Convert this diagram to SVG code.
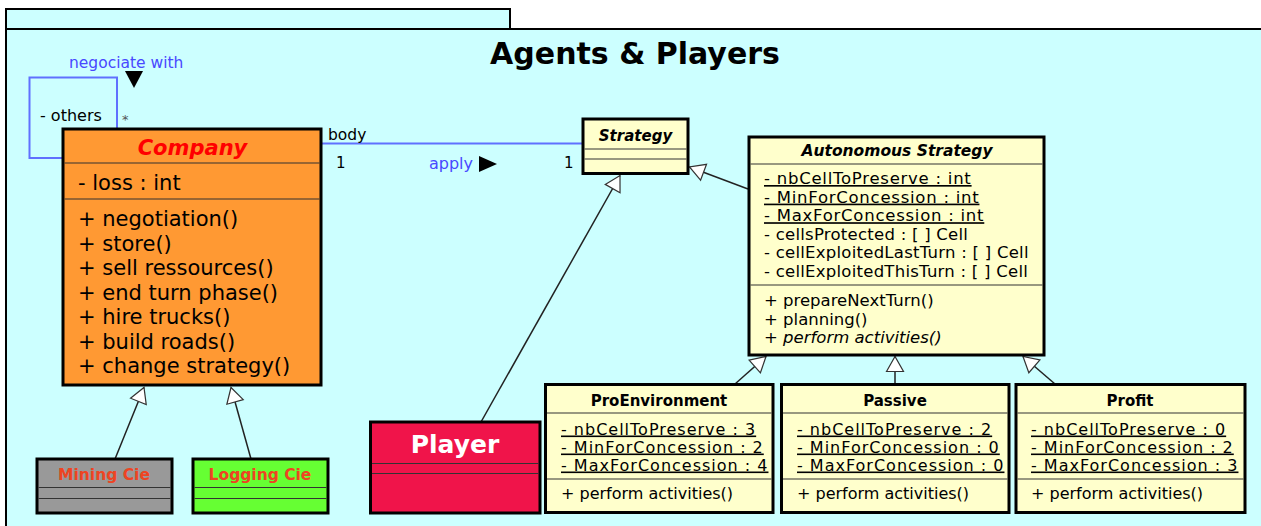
<svg xmlns="http://www.w3.org/2000/svg" width="1261" height="526" viewBox="0 0 1261 526">
<style>
text{font-family:"DejaVu Sans","Liberation Sans",sans-serif;fill:#000}
.box{stroke:#000;stroke-width:3}
.div{stroke:#333;stroke-width:1.2}
.yel{fill:#ffffcc}
.t21{font-size:21px}
.t16{font-size:16px}
.t165{font-size:16.5px}
.ul{text-decoration:underline}
.ls1{letter-spacing:1px}
.ls075{letter-spacing:0.75px}
.ls02{letter-spacing:0.25px}
.hd{font-weight:bold;text-anchor:middle}
.it{font-style:italic}
.gen{fill:none;stroke:#222;stroke-width:1.5;marker-end:url(#gen)}
.assoc{fill:none;stroke:#6070ff;stroke-width:2}
.blue{fill:#4848ff}
</style>
<defs>
<marker id="gen" markerUnits="userSpaceOnUse" markerWidth="20" markerHeight="20" viewBox="0 0 20 20" refX="18" refY="10" orient="auto">
<path d="M3,1.5 L18,10 L3,18.5 Z" fill="#fff" stroke="#333" stroke-width="1.2"/>
</marker>
</defs>
<rect width="1261" height="526" fill="#fff"/>
<g id="package">
<rect x="6" y="9" width="504" height="20" fill="#ccffff" stroke="#000" stroke-width="2"/>
<rect x="6" y="29" width="1270" height="510" fill="#ccffff" stroke="#000" stroke-width="2"/>
<text x="635" y="64" font-size="30" font-weight="bold" text-anchor="middle">Agents &amp; Players</text>
</g>
<g id="connectors">
<path class="assoc" d="M63,158 H29.5 V77.5 H117 V128"/>
<path class="assoc" d="M322,143.5 H583"/>
<text x="69" y="68" font-size="15.5" class="blue">negociate with</text>
<polygon points="125,71 143,71 134,88" fill="#000"/>
<text x="40" y="121" class="t16">- others</text>
<text x="122" y="124" font-size="13" style="fill:#555">*</text>
<text x="328" y="140" font-size="15.5">body</text>
<text x="336" y="168" font-size="15">1</text>
<text x="429" y="169" font-size="16" class="blue">apply</text>
<polygon points="479,156 479,172 497,164" fill="#000"/>
<text x="564" y="168" font-size="15">1</text>
<path class="gen" d="M115,459 L144,387.5"/>
<path class="gen" d="M251,459 L231,387.5"/>
<path class="gen" d="M481,422 L620,175.5"/>
<path class="gen" d="M748,189 L689.5,167"/>
<path class="gen" d="M735,384 L766,356.5"/>
<path class="gen" d="M895,384 L895,356.5"/>
<path class="gen" d="M1055,384 L1023,356.5"/>
</g>
<g id="company">
<rect class="box" x="63" y="129" width="258" height="256" fill="#ff9933"/>
<line class="div" x1="64.5" y1="163" x2="319.5" y2="163"/>
<line class="div" x1="64.5" y1="199" x2="319.5" y2="199"/>
<text x="192.5" y="155" class="t21 hd it" style="fill:#ff0000">Company</text>
<text x="78" y="190" class="t21">- loss : int</text>
<text x="78" y="226" class="t21">+ negotiation()</text>
<text x="78" y="250.5" class="t21">+ store()</text>
<text x="78" y="275" class="t21">+ sell ressources()</text>
<text x="78" y="299.5" class="t21">+ end turn phase()</text>
<text x="78" y="324" class="t21">+ hire trucks()</text>
<text x="78" y="348.5" class="t21">+ build roads()</text>
<text x="78" y="373" class="t21">+ change strategy()</text>
</g>
<g id="mining-cie">
<rect class="box" x="37" y="459" width="135" height="54" fill="#999999"/>
<line class="div" x1="38.5" y1="487.5" x2="170.5" y2="487.5"/>
<line class="div" x1="38.5" y1="498.5" x2="170.5" y2="498.5"/>
<text x="104" y="479.5" font-size="15.5" class="hd" style="fill:#ee4422">Mining Cie</text>
</g>
<g id="logging-cie">
<rect class="box" x="193" y="459" width="135" height="54" fill="#66ff33"/>
<line class="div" x1="194.5" y1="487.5" x2="326.5" y2="487.5"/>
<line class="div" x1="194.5" y1="498.5" x2="326.5" y2="498.5"/>
<text x="260" y="479.5" font-size="15.5" class="hd" style="fill:#ee4422">Logging Cie</text>
</g>
<g id="player">
<rect class="box" x="370.5" y="422" width="169.5" height="91" fill="#f0144a"/>
<line class="div" x1="372" y1="463.5" x2="538.5" y2="463.5"/>
<line class="div" x1="372" y1="473.5" x2="538.5" y2="473.5"/>
<text x="455" y="452.5" font-size="25" class="hd" style="fill:#fff">Player</text>
</g>
<g id="strategy">
<rect class="box yel" x="583" y="119" width="105" height="54.5"/>
<line class="div" x1="584.5" y1="149" x2="686.5" y2="149"/>
<line class="div" x1="584.5" y1="159" x2="686.5" y2="159"/>
<text x="635.5" y="141" font-size="15" class="hd it">Strategy</text>
</g>
<g id="autonomous-strategy">
<rect class="box yel" x="749" y="137" width="295" height="218"/>
<line class="div" x1="750.5" y1="164" x2="1042.5" y2="164"/>
<line class="div" x1="750.5" y1="285" x2="1042.5" y2="285"/>
<text x="897" y="156" font-size="15.5" class="hd it">Autonomous Strategy</text>
<text x="764" y="184" class="t165 ul ls075">- nbCellToPreserve : int</text>
<text x="764" y="202.6" class="t165 ul ls075">- MinForConcession : int</text>
<text x="764" y="221.2" class="t165 ul ls075">- MaxForConcession : int</text>
<text x="764" y="239.8" class="t165 ls02">- cellsProtected : [ ] Cell</text>
<text x="764" y="258.4" class="t165 ls02">- cellExploitedLastTurn : [ ] Cell</text>
<text x="764" y="277" class="t165 ls02">- cellExploitedThisTurn : [ ] Cell</text>
<text x="764" y="306" class="t165">+ prepareNextTurn()</text>
<text x="764" y="325" class="t165">+ planning()</text>
<text x="764" y="343" class="t165 it">+ perform activities()</text>
</g>
<g id="pro-environment">
<rect class="box yel" x="545.5" y="384.5" width="227.5" height="128"/>
<line class="div" x1="547" y1="413" x2="771.5" y2="413"/>
<line class="div" x1="547" y1="479" x2="771.5" y2="479"/>
<text x="659" y="406" font-size="15" class="hd">ProEnvironment</text>
<text x="561" y="434.5" class="t16 ul ls1">- nbCellToPreserve : 3</text>
<text x="561" y="452.5" class="t16 ul ls1">- MinForConcession : 2</text>
<text x="561" y="470.5" class="t16 ul ls1">- MaxForConcession : 4</text>
<text x="561" y="499" class="t16">+ perform activities()</text>
</g>
<g id="passive">
<rect class="box yel" x="781.5" y="384.5" width="227.5" height="128"/>
<line class="div" x1="783" y1="413" x2="1007.5" y2="413"/>
<line class="div" x1="783" y1="479" x2="1007.5" y2="479"/>
<text x="895" y="406" font-size="15" class="hd">Passive</text>
<text x="797" y="434.5" class="t16 ul ls1">- nbCellToPreserve : 2</text>
<text x="797" y="452.5" class="t16 ul ls1">- MinForConcession : 0</text>
<text x="797" y="470.5" class="t16 ul ls1">- MaxForConcession : 0</text>
<text x="797" y="499" class="t16">+ perform activities()</text>
</g>
<g id="profit">
<rect class="box yel" x="1016" y="384.5" width="229" height="128"/>
<line class="div" x1="1017.5" y1="413" x2="1243.5" y2="413"/>
<line class="div" x1="1017.5" y1="479" x2="1243.5" y2="479"/>
<text x="1130" y="406" font-size="15" class="hd">Profit</text>
<text x="1031" y="434.5" class="t16 ul ls1">- nbCellToPreserve : 0</text>
<text x="1031" y="452.5" class="t16 ul ls1">- MinForConcession : 2</text>
<text x="1031" y="470.5" class="t16 ul ls1">- MaxForConcession : 3</text>
<text x="1031" y="499" class="t16">+ perform activities()</text>
</g>
</svg>
